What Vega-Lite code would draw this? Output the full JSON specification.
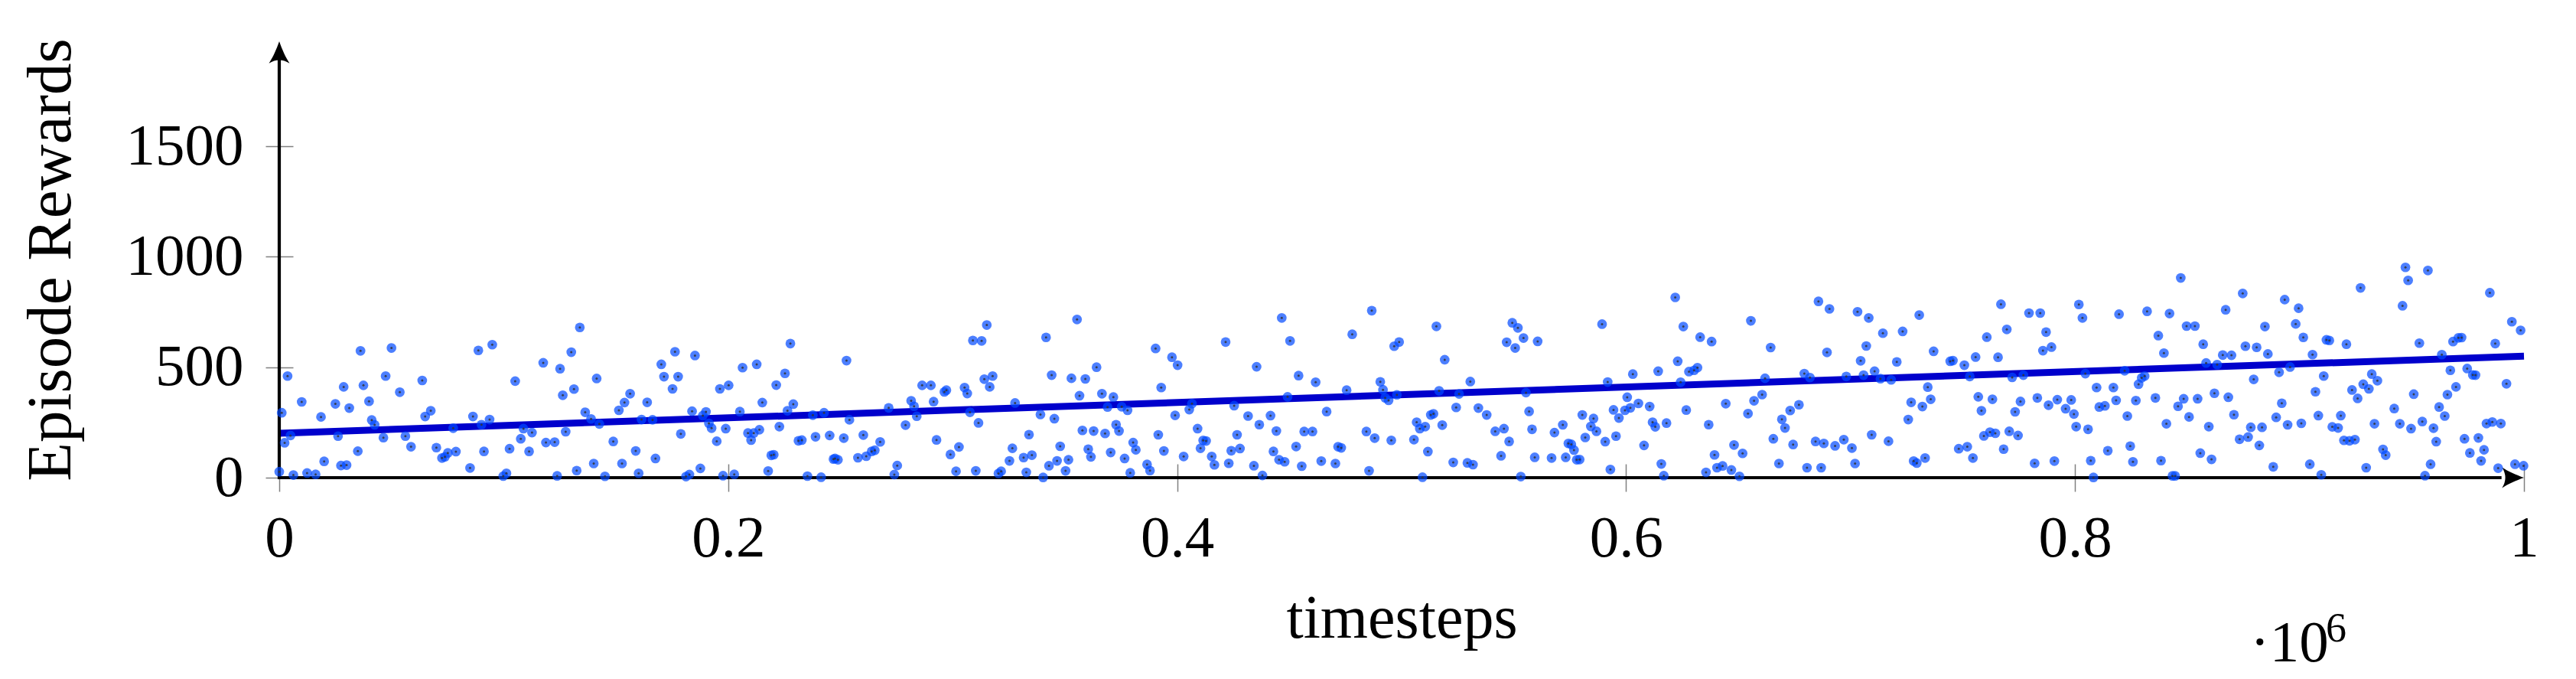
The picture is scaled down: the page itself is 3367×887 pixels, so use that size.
{
  "$schema": "https://vega.github.io/schema/vega-lite/v6.json",
  "width": 2934,
  "height": 570,
  "autosize": {"type": "none"},
  "padding": {"left": 365, "top": 54, "right": 68, "bottom": 263},
  "background": "white",
  "config": {"view": {"stroke": null}, "font": "Liberation Serif"},
  "datasets": {
    "fit": [{"t": 0, "r": 201}, {"t": 1000000, "r": 550}],
    "pts": [
      {"t":36200,"r":574},{"t":50000,"r":587},{"t":88700,"r":576},{"t":94900,"r":602},{"t":3700,"r":460},{"t":47400,"r":460},{"t":28700,"r":411},{"t":37500,"r":418},{"t":63700,"r":440},{"t":53700,"r":387},{"t":10000,"r":343},{"t":25000,"r":334},{"t":40000,"r":346},{"t":31200,"r":315},{"t":1100,"r":294},{"t":18600,"r":275},{"t":41200,"r":261},{"t":42500,"r":239},{"t":65000,"r":277},{"t":67500,"r":303},{"t":86300,"r":277},{"t":93700,"r":263},{"t":90100,"r":240},{"t":77500,"r":224},{"t":5000,"r":191},{"t":26200,"r":188},{"t":46400,"r":181},{"t":56200,"r":188},{"t":2400,"r":158},{"t":58700,"r":140},{"t":70000,"r":136},{"t":75100,"r":112},{"t":78700,"r":118},{"t":91200,"r":119},{"t":72500,"r":89},{"t":73800,"r":94},{"t":35000,"r":120},{"t":20000,"r":74},{"t":27500,"r":55},{"t":30000,"r":57},{"t":85000,"r":44},{"t":0,"r":27},{"t":6300,"r":12},{"t":12400,"r":21},{"t":16200,"r":15},
      {"t":133900,"r":680},{"t":130100,"r":568},{"t":117600,"r":520},{"t":125100,"r":493},{"t":105100,"r":437},{"t":141400,"r":449},{"t":131300,"r":401},{"t":126300,"r":373},{"t":156300,"r":380},{"t":153800,"r":340},{"t":151300,"r":305},{"t":163900,"r":341},{"t":136300,"r":296},{"t":138900,"r":266},{"t":142600,"r":243},{"t":161400,"r":263},{"t":166300,"r":262},{"t":176300,"r":570},{"t":185200,"r":553},{"t":170200,"r":513},{"t":171400,"r":457},{"t":177700,"r":457},{"t":175200,"r":402},{"t":196300,"r":402},{"t":183900,"r":301},{"t":190100,"r":298},{"t":188700,"r":281},{"t":191400,"r":246},{"t":192600,"r":224},{"t":108800,"r":222},{"t":112600,"r":204},{"t":127600,"r":208},{"t":107600,"r":176},{"t":118800,"r":159},{"t":122700,"r":161},{"t":148800,"r":164},{"t":178900,"r":198},{"t":194900,"r":165},{"t":102600,"r":131},{"t":111300,"r":119},{"t":158800,"r":121},{"t":167600,"r":87},{"t":140100,"r":64},{"t":152700,"r":64},{"t":132500,"r":32},{"t":187600,"r":42},{"t":101200,"r":20},{"t":99800,"r":7},{"t":123800,"r":8},{"t":145100,"r":6},{"t":160100,"r":20},{"t":182700,"r":14},{"t":181200,"r":5},
      {"t":200200,"r":418},{"t":227700,"r":607},{"t":252700,"r":530},{"t":206400,"r":498},{"t":212700,"r":513},{"t":225300,"r":472},{"t":221400,"r":419},{"t":215200,"r":340},{"t":229000,"r":333},{"t":226400,"r":303},{"t":205200,"r":299},{"t":237700,"r":283},{"t":242700,"r":294},{"t":254000,"r":262},{"t":271500,"r":316},{"t":281500,"r":348},{"t":282800,"r":323},{"t":284000,"r":278},{"t":286400,"r":418},{"t":290300,"r":418},{"t":291500,"r":344},{"t":296300,"r":388},{"t":297200,"r":396},{"t":198900,"r":222},{"t":222800,"r":231},{"t":208800,"r":202},{"t":211400,"r":202},{"t":213900,"r":217},{"t":210200,"r":170},{"t":231300,"r":167},{"t":232800,"r":170},{"t":238900,"r":185},{"t":245200,"r":191},{"t":251500,"r":179},{"t":260200,"r":193},{"t":267700,"r":162},{"t":279000,"r":238},{"t":292800,"r":171},{"t":219200,"r":101},{"t":220300,"r":104},{"t":246900,"r":84},{"t":248900,"r":81},{"t":247600,"r":87},{"t":257800,"r":90},{"t":261500,"r":97},{"t":263900,"r":119},{"t":265300,"r":124},{"t":275300,"r":55},{"t":217800,"r":30},{"t":202700,"r":15},{"t":197700,"r":9},{"t":235300,"r":7},{"t":241400,"r":2},{"t":274000,"r":14},
      {"t":315200,"r":691},{"t":309000,"r":621},{"t":312900,"r":619},{"t":341600,"r":635},{"t":355400,"r":716},{"t":390400,"r":585},{"t":397700,"r":545},{"t":314100,"r":446},{"t":317800,"r":460},{"t":316500,"r":411},{"t":305300,"r":408},{"t":306500,"r":381},{"t":344100,"r":464},{"t":352900,"r":450},{"t":359100,"r":447},{"t":364100,"r":500},{"t":356500,"r":371},{"t":366500,"r":380},{"t":371600,"r":365},{"t":392900,"r":408},{"t":327800,"r":338},{"t":307700,"r":296},{"t":339100,"r":286},{"t":345300,"r":267},{"t":369000,"r":320},{"t":375300,"r":321},{"t":377900,"r":305},{"t":311500,"r":248},{"t":372800,"r":240},{"t":374100,"r":211},{"t":334000,"r":195},{"t":357800,"r":214},{"t":362800,"r":211},{"t":367900,"r":200},{"t":391600,"r":194},{"t":302800,"r":139},{"t":299000,"r":105},{"t":326600,"r":133},{"t":347900,"r":142},{"t":360400,"r":129},{"t":361600,"r":94},{"t":370400,"r":114},{"t":380400,"r":159},{"t":381600,"r":126},{"t":394100,"r":121},{"t":331600,"r":91},{"t":335300,"r":102},{"t":325300,"r":76},{"t":346500,"r":76},{"t":351600,"r":81},{"t":342900,"r":54},{"t":376600,"r":87},{"t":386600,"r":60},{"t":387900,"r":32},{"t":301500,"r":29},{"t":310300,"r":31},{"t":321600,"r":29},{"t":320400,"r":19},{"t":332800,"r":24},{"t":350300,"r":31},{"t":340300,"r":1},{"t":379100,"r":22},
      {"t":400200,"r":509},{"t":399100,"r":282},{"t":421600,"r":614},{"t":446600,"r":723},{"t":450300,"r":619},{"t":435400,"r":502},{"t":454100,"r":462},{"t":461700,"r":432},{"t":478000,"r":649},{"t":486700,"r":756},{"t":496700,"r":595},{"t":498900,"r":614},{"t":490500,"r":434},{"t":491700,"r":398},{"t":475500,"r":396},{"t":406600,"r":335},{"t":405400,"r":308},{"t":425400,"r":326},{"t":449200,"r":366},{"t":431600,"r":279},{"t":441600,"r":281},{"t":436600,"r":240},{"t":466600,"r":299},{"t":492700,"r":361},{"t":494200,"r":350},{"t":497900,"r":375},{"t":409100,"r":222},{"t":426700,"r":194},{"t":444200,"r":211},{"t":456600,"r":209},{"t":460300,"r":209},{"t":484300,"r":209},{"t":488000,"r":179},{"t":495400,"r":169},{"t":411600,"r":169},{"t":412900,"r":166},{"t":410400,"r":133},{"t":424100,"r":122},{"t":428000,"r":132},{"t":453000,"r":141},{"t":471700,"r":140},{"t":473100,"r":135},{"t":402900,"r":96},{"t":415400,"r":96},{"t":416600,"r":58},{"t":423000,"r":65},{"t":442900,"r":119},{"t":445400,"r":81},{"t":447900,"r":72},{"t":434200,"r":54},{"t":455500,"r":52},{"t":464200,"r":75},{"t":470500,"r":64},{"t":485500,"r":31},{"t":438000,"r":10},
      {"t":515500,"r":685},{"t":519200,"r":534},{"t":549300,"r":701},{"t":551800,"r":678},{"t":554300,"r":632},{"t":546800,"r":613},{"t":550600,"r":587},{"t":560600,"r":617},{"t":589300,"r":695},{"t":530600,"r":435},{"t":516700,"r":393},{"t":525600,"r":379},{"t":555400,"r":385},{"t":591800,"r":433},{"t":524300,"r":318},{"t":534200,"r":315},{"t":537900,"r":284},{"t":556800,"r":300},{"t":513000,"r":284},{"t":514200,"r":289},{"t":506700,"r":251},{"t":508100,"r":222},{"t":510500,"r":231},{"t":518100,"r":238},{"t":541700,"r":210},{"t":545600,"r":222},{"t":558100,"r":219},{"t":505500,"r":172},{"t":547900,"r":164},{"t":568100,"r":204},{"t":571800,"r":239},{"t":580500,"r":284},{"t":585500,"r":268},{"t":584300,"r":232},{"t":586800,"r":210},{"t":594400,"r":307},{"t":596800,"r":270},{"t":599500,"r":305},{"t":581800,"r":182},{"t":590700,"r":163},{"t":595500,"r":188},{"t":574300,"r":155},{"t":575600,"r":151},{"t":576800,"r":125},{"t":511700,"r":118},{"t":523000,"r":69},{"t":529300,"r":67},{"t":531800,"r":59},{"t":544300,"r":99},{"t":559300,"r":92},{"t":566800,"r":89},{"t":573100,"r":92},{"t":578000,"r":81},{"t":579300,"r":82},{"t":593000,"r":37},{"t":509300,"r":2},{"t":553100,"r":5},
      {"t":600500,"r":364},{"t":601900,"r":316},{"t":603000,"r":469},{"t":621900,"r":816},{"t":625500,"r":684},{"t":633000,"r":636},{"t":638100,"r":616},{"t":655600,"r":710},{"t":664400,"r":589},{"t":685700,"r":798},{"t":690600,"r":764},{"t":689500,"r":567},{"t":614300,"r":482},{"t":623000,"r":527},{"t":628000,"r":480},{"t":630300,"r":486},{"t":631800,"r":498},{"t":624300,"r":432},{"t":661900,"r":450},{"t":679400,"r":471},{"t":681900,"r":453},{"t":698100,"r":458},{"t":605500,"r":336},{"t":610500,"r":322},{"t":626800,"r":306},{"t":644400,"r":335},{"t":657000,"r":348},{"t":660600,"r":376},{"t":654300,"r":290},{"t":673100,"r":304},{"t":677000,"r":330},{"t":669400,"r":264},{"t":670800,"r":225},{"t":611800,"r":251},{"t":613000,"r":230},{"t":618000,"r":247},{"t":636800,"r":240},{"t":608000,"r":146},{"t":665600,"r":176},{"t":674400,"r":150},{"t":684400,"r":164},{"t":688100,"r":155},{"t":693100,"r":144},{"t":697000,"r":172},{"t":700600,"r":134},{"t":648100,"r":148},{"t":651900,"r":110},{"t":639400,"r":103},{"t":615700,"r":62},{"t":616800,"r":9},{"t":635600,"r":24},{"t":640500,"r":45},{"t":643000,"r":53},{"t":646900,"r":35},{"t":650500,"r":6},{"t":668100,"r":64},{"t":680600,"r":45},{"t":686900,"r":45},
      {"t":703100,"r":751},{"t":708100,"r":723},{"t":714400,"r":654},{"t":723200,"r":662},{"t":730600,"r":736},{"t":707000,"r":596},{"t":704500,"r":529},{"t":720600,"r":524},{"t":737000,"r":572},{"t":705800,"r":464},{"t":710700,"r":482},{"t":713300,"r":448},{"t":718100,"r":443},{"t":745600,"r":530},{"t":744400,"r":527},{"t":750700,"r":509},{"t":755700,"r":546},{"t":760700,"r":636},{"t":765700,"r":545},{"t":767000,"r":785},{"t":769600,"r":671},{"t":779500,"r":745},{"t":784500,"r":745},{"t":787100,"r":659},{"t":785700,"r":575},{"t":789500,"r":591},{"t":801700,"r":784},{"t":753100,"r":458},{"t":772000,"r":454},{"t":777000,"r":464},{"t":734400,"r":410},{"t":727000,"r":341},{"t":732000,"r":322},{"t":735700,"r":355},{"t":725700,"r":263},{"t":756900,"r":366},{"t":763200,"r":355},{"t":758300,"r":303},{"t":775700,"r":345},{"t":773300,"r":298},{"t":783200,"r":361},{"t":788200,"r":328},{"t":792100,"r":353},{"t":795800,"r":312},{"t":798300,"r":352},{"t":799500,"r":288},{"t":800500,"r":231},{"t":709400,"r":194},{"t":716900,"r":165},{"t":759400,"r":189},{"t":762100,"r":206},{"t":764500,"r":201},{"t":770700,"r":210},{"t":774600,"r":191},{"t":748200,"r":131},{"t":752000,"r":140},{"t":754500,"r":89},{"t":768200,"r":129},{"t":702000,"r":64},{"t":728100,"r":75},{"t":729500,"r":66},{"t":733200,"r":89},{"t":782000,"r":65},{"t":790800,"r":75},
      {"t":803300,"r":723},{"t":847100,"r":904},{"t":874700,"r":834},{"t":893400,"r":806},{"t":899600,"r":767},{"t":898300,"r":696},{"t":901700,"r":635},{"t":819600,"r":740},{"t":832100,"r":753},{"t":842100,"r":743},{"t":867100,"r":760},{"t":849700,"r":686},{"t":853400,"r":686},{"t":884600,"r":684},{"t":837100,"r":643},{"t":857100,"r":604},{"t":839600,"r":564},{"t":865800,"r":555},{"t":869700,"r":554},{"t":875900,"r":595},{"t":880900,"r":590},{"t":885900,"r":560},{"t":858400,"r":519},{"t":863300,"r":512},{"t":895800,"r":501},{"t":804600,"r":471},{"t":822100,"r":484},{"t":829700,"r":452},{"t":831000,"r":460},{"t":828300,"r":423},{"t":879600,"r":445},{"t":890900,"r":477},{"t":809600,"r":408},{"t":817100,"r":408},{"t":835800,"r":361},{"t":848400,"r":357},{"t":845900,"r":323},{"t":854600,"r":357},{"t":862100,"r":382},{"t":868300,"r":364},{"t":818300,"r":350},{"t":827100,"r":349},{"t":810800,"r":320},{"t":813300,"r":325},{"t":823300,"r":279},{"t":850800,"r":275},{"t":870800,"r":285},{"t":892100,"r":337},{"t":889600,"r":273},{"t":894700,"r":239},{"t":900800,"r":246},{"t":805800,"r":219},{"t":840700,"r":244},{"t":859600,"r":231},{"t":878300,"r":228},{"t":883300,"r":228},{"t":873300,"r":174},{"t":877100,"r":184},{"t":824600,"r":143},{"t":814600,"r":122},{"t":882100,"r":146},{"t":855800,"r":111},{"t":860800,"r":83},{"t":807000,"r":77},{"t":825800,"r":72},{"t":838300,"r":77},{"t":888300,"r":49},{"t":808200,"r":1},{"t":843400,"r":8},{"t":844600,"r":8},
      {"t":947200,"r":952},{"t":957200,"r":938},{"t":948400,"r":893},{"t":927200,"r":859},{"t":945900,"r":778},{"t":984800,"r":837},{"t":994600,"r":706},{"t":998500,"r":667},{"t":912000,"r":624},{"t":913300,"r":621},{"t":920900,"r":604},{"t":953400,"r":609},{"t":968400,"r":616},{"t":970800,"r":633},{"t":972200,"r":634},{"t":987200,"r":607},{"t":905800,"r":557},{"t":963400,"r":557},{"t":910800,"r":460},{"t":932200,"r":469},{"t":934700,"r":439},{"t":928400,"r":423},{"t":930900,"r":402},{"t":967200,"r":486},{"t":974700,"r":494},{"t":977200,"r":465},{"t":978400,"r":464},{"t":992200,"r":425},{"t":907100,"r":389},{"t":923400,"r":397},{"t":925900,"r":359},{"t":950900,"r":378},{"t":965900,"r":376},{"t":969700,"r":411},{"t":942200,"r":313},{"t":962200,"r":320},{"t":964700,"r":279},{"t":908400,"r":281},{"t":918400,"r":281},{"t":914600,"r":230},{"t":917200,"r":225},{"t":933400,"r":244},{"t":944700,"r":244},{"t":949700,"r":222},{"t":954700,"r":254},{"t":959700,"r":224},{"t":983300,"r":245},{"t":985900,"r":252},{"t":989700,"r":245},{"t":919800,"r":169},{"t":922300,"r":167},{"t":924700,"r":172},{"t":960900,"r":163},{"t":973500,"r":176},{"t":979700,"r":180},{"t":937200,"r":128},{"t":938400,"r":102},{"t":975900,"r":112},{"t":982200,"r":126},{"t":980900,"r":76},{"t":904600,"r":61},{"t":929700,"r":45},{"t":958400,"r":61},{"t":988500,"r":43},{"t":996000,"r":61},{"t":999800,"r":54},{"t":909700,"r":13},{"t":955900,"r":9}
    ]
  },
  "layer": [
    {
      "data": {"name": "fit"},
      "mark": {"type": "line", "color": "#0000cc", "strokeWidth": 9, "strokeCap": "butt"},
      "encoding": {
        "x": {
          "field": "t", "type": "quantitative",
          "scale": {"domain": [0, 1000000], "nice": false, "zero": false},
          "axis": {
            "orient": "bottom", "values": [0, 200000, 400000, 600000, 800000, 1000000],
            "labelExpr": "format(datum.value / 1000000, '~g')",
            "title": "timesteps", "domain": false, "grid": false, "offset": -18,
            "tickSize": 36, "tickColor": "#808080", "tickWidth": 1.5,
            "labelFont": "Liberation Serif", "labelFontSize": 77, "labelColor": "black",
            "labelPadding": 23, "labelFlush": false, "labelOverlap": false, "labelBound": false,
            "titleFont": "Liberation Serif", "titleFontSize": 80, "titleFontWeight": "normal",
            "titleColor": "black", "titlePadding": 28
          }
        },
        "y": {
          "field": "r", "type": "quantitative",
          "scale": {"domain": [0, 1975], "nice": false, "zero": false},
          "axis": {
            "values": [0, 500, 1000, 1500], "format": "d",
            "title": "Episode Rewards", "domain": false, "grid": false, "offset": -18,
            "tickSize": 36, "tickColor": "#808080", "tickWidth": 1.5,
            "labelFont": "Liberation Serif", "labelFontSize": 77, "labelColor": "black",
            "labelPadding": 29, "labelFlush": false, "labelOverlap": false, "labelBound": false,
            "titleFont": "Liberation Serif", "titleFontSize": 83, "titleFontWeight": "normal",
            "titleColor": "black", "titlePadding": 75
          }
        }
      }
    },
    {
      "data": {"values": [{}]},
      "mark": {"type": "rule", "color": "black", "strokeWidth": 4.2},
      "encoding": {
        "x": {"datum": 0, "type": "quantitative", "scale": {"domain": [0, 1000000], "nice": false, "zero": false}},
        "x2": {"datum": 990000},
        "y": {"datum": 0, "type": "quantitative", "scale": {"domain": [0, 1975], "nice": false, "zero": false}}
      }
    },
    {
      "data": {"values": [{}]},
      "mark": {"type": "rule", "color": "black", "strokeWidth": 4.2},
      "encoding": {
        "x": {"datum": 0, "type": "quantitative", "scale": {"domain": [0, 1000000], "nice": false, "zero": false}},
        "y": {"datum": -7, "type": "quantitative", "scale": {"domain": [0, 1975], "nice": false, "zero": false}},
        "y2": {"datum": 1940}
      }
    },
    {
      "data": {"values": [{}]},
      "mark": {"type": "point", "shape": "M0,0 C-0.35,0.12 -0.75,0.3 -1,0.47 Q-0.7,0 -1,-0.47 C-0.75,-0.3 -0.35,-0.12 0,0 Z", "filled": true, "color": "black", "opacity": 1, "size": 3300, "strokeWidth": 0},
      "encoding": {
        "x": {"datum": 1000000, "type": "quantitative", "scale": {"domain": [0, 1000000], "nice": false, "zero": false}},
        "y": {"datum": 0, "type": "quantitative", "scale": {"domain": [0, 1975], "nice": false, "zero": false}}
      }
    },
    {
      "data": {"values": [{}]},
      "mark": {"type": "point", "shape": "M0,0 C0.12,0.35 0.3,0.75 0.47,1 Q0,0.7 -0.47,1 C-0.3,0.75 -0.12,0.35 0,0 Z", "filled": true, "color": "black", "opacity": 1, "size": 3300, "strokeWidth": 0},
      "encoding": {
        "x": {"datum": 0, "type": "quantitative", "scale": {"domain": [0, 1000000], "nice": false, "zero": false}},
        "y": {"datum": 1975, "type": "quantitative", "scale": {"domain": [0, 1975], "nice": false, "zero": false}}
      }
    },
    {
      "data": {"name": "pts"},
      "mark": {"type": "circle", "color": "#0048ff", "opacity": 0.7, "size": 161},
      "encoding": {
        "x": {"field": "t", "type": "quantitative", "scale": {"domain": [0, 1000000], "nice": false, "zero": false}},
        "y": {"field": "r", "type": "quantitative", "scale": {"domain": [0, 1975], "nice": false, "zero": false}}
      }
    },
    {
      "data": {"name": "pts"},
      "mark": {"type": "circle", "color": "#333333", "opacity": 0.85, "size": 9},
      "encoding": {
        "x": {"field": "t", "type": "quantitative", "scale": {"domain": [0, 1000000], "nice": false, "zero": false}},
        "y": {"field": "r", "type": "quantitative", "scale": {"domain": [0, 1975], "nice": false, "zero": false}}
      }
    },
    {
      "data": {"values": [{}]},
      "mark": {"type": "text", "text": "·10", "align": "left", "baseline": "alphabetic", "font": "Liberation Serif", "fontSize": 77, "color": "black"},
      "encoding": {
        "x": {"datum": 878000, "type": "quantitative", "scale": {"domain": [0, 1000000], "nice": false, "zero": false}},
        "y": {"datum": -831, "type": "quantitative", "scale": {"domain": [0, 1975], "nice": false, "zero": false}}
      }
    },
    {
      "data": {"values": [{}]},
      "mark": {"type": "text", "text": "6", "align": "left", "baseline": "alphabetic", "font": "Liberation Serif", "fontSize": 54, "color": "black"},
      "encoding": {
        "x": {"datum": 911700, "type": "quantitative", "scale": {"domain": [0, 1000000], "nice": false, "zero": false}},
        "y": {"datum": -741, "type": "quantitative", "scale": {"domain": [0, 1975], "nice": false, "zero": false}}
      }
    }
  ]
}
